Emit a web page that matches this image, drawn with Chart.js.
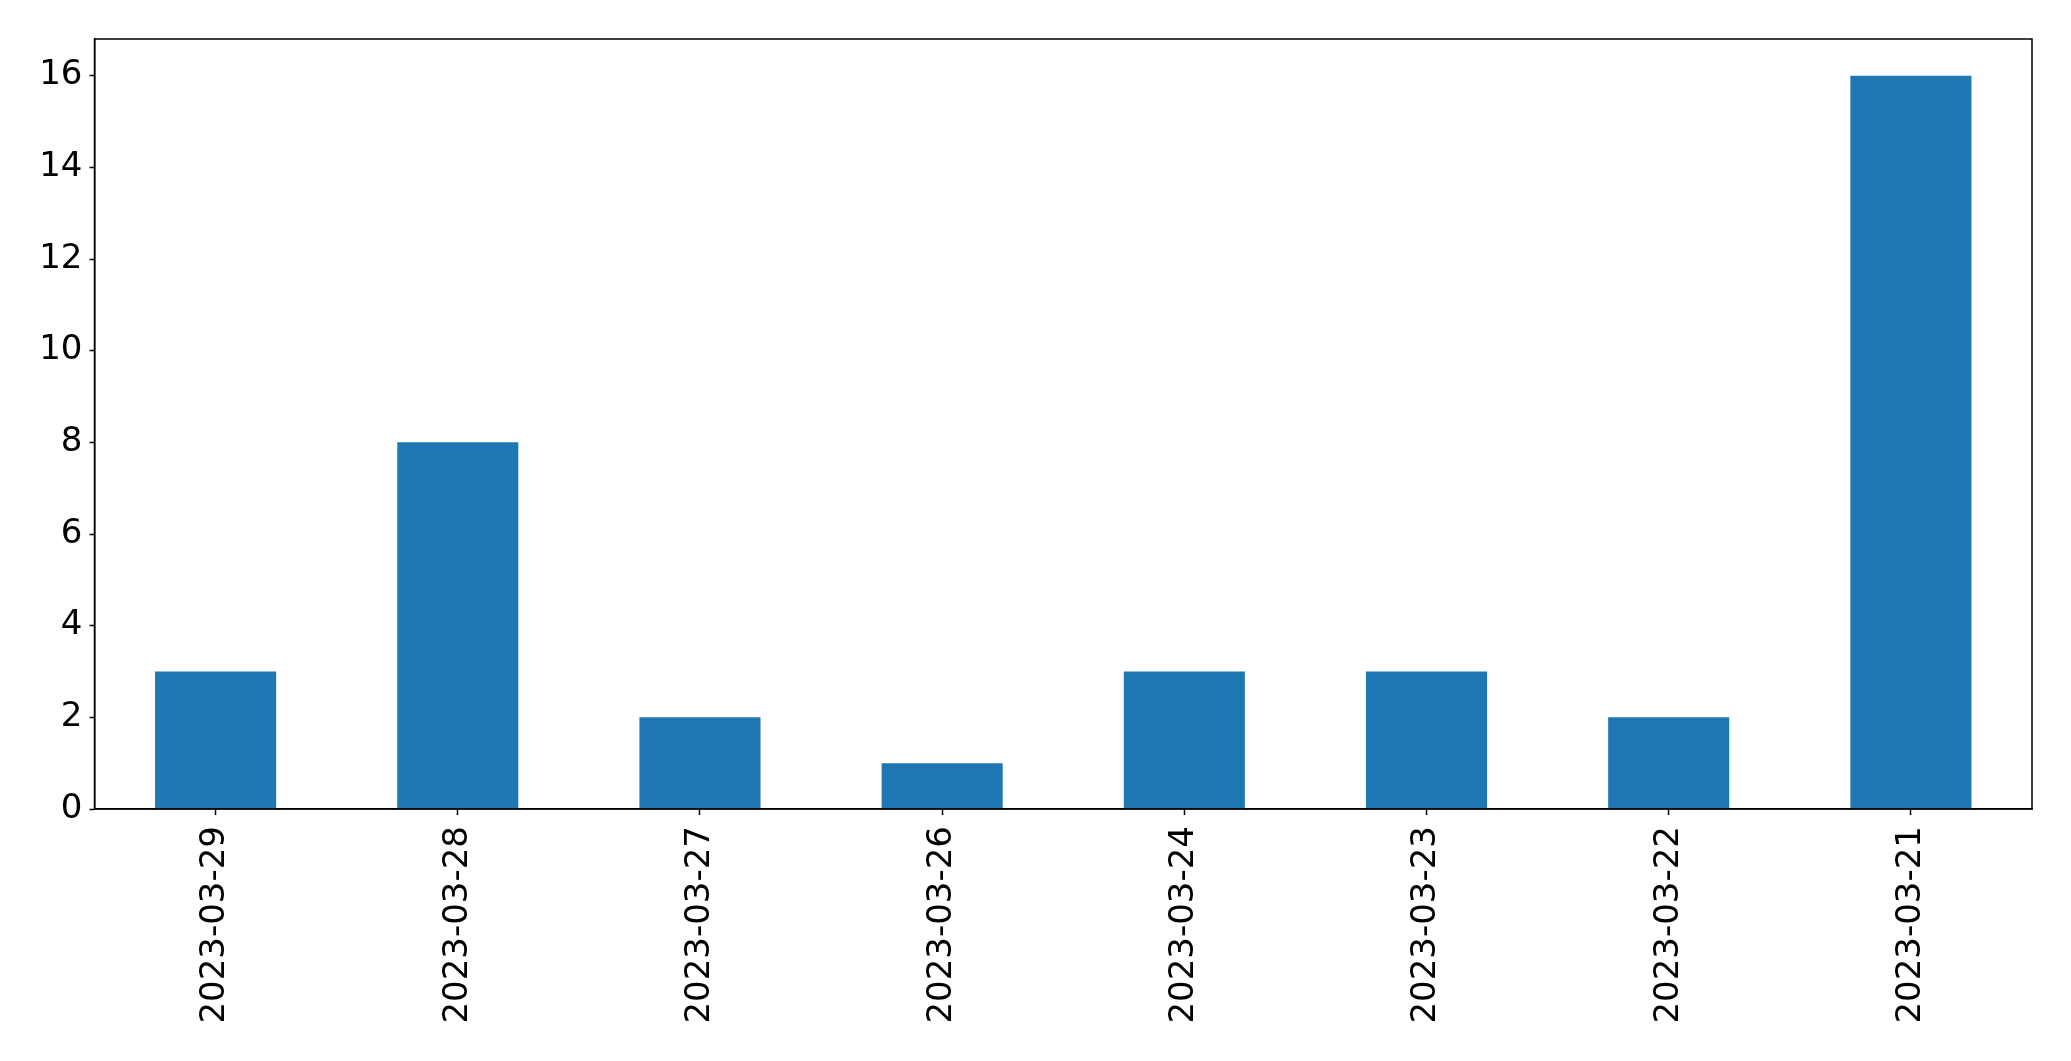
<!DOCTYPE html>
<html>
<head>
<meta charset="utf-8">
<script src="https://cdn.jsdelivr.net/npm/chart.js@4/dist/chart.umd.min.js"></script>
<style>
  html, body { margin: 0; padding: 0; background: #fff; }
  #wrap { width: 2071px; height: 1061px; }
</style>
</head>
<body>
<div id="wrap"><canvas id="chart"></canvas></div>
<script>
'use strict';

// values
const dates = ['2023-03-29', '2023-03-28', '2023-03-27', '2023-03-26', '2023-03-24', '2023-03-23', '2023-03-22', '2023-03-21'];
const counts = [3, 8, 2, 1, 3, 3, 2, 16];
const yTicks = [0, 2, 4, 6, 8, 10, 12, 14, 16];

const FONT = { family: '"DejaVu Sans", sans-serif', size: 34 };

// draw the full axes box (matplotlib style)
const frame = {
  id: 'frame',
  afterDraw(chart) {
    const { ctx, chartArea: a } = chart;
    ctx.save();
    ctx.strokeStyle = '#000';
    ctx.lineWidth = 1.5;
    ctx.strokeRect(a.left, a.top, a.right - a.left, a.bottom - a.top);
    ctx.restore();
  }
};

new Chart(document.getElementById('chart'), {
  type: 'bar',
  data: {
    labels: dates,
    datasets: [{ data: counts, backgroundColor: '#1f77b4', barPercentage: 0.5, categoryPercentage: 1.0 }]
  },
  options: {
    responsive: true,
    maintainAspectRatio: false,
    animation: false,
    layout: { padding: { top: 39, right: 39, left: 0, bottom: 0 } },
    plugins: { legend: { display: false }, tooltip: { enabled: false } },
    scales: {
      x: {
        offset: true,
        grid: { offset: false, drawOnChartArea: false, color: '#000', tickLength: 6, tickWidth: 1.5 },
        border: { color: '#000', width: 1.5 },
        ticks: { color: '#000', font: FONT, minRotation: 90, maxRotation: 90, padding: 11, autoSkip: false },
        afterFit(s) { s.height = 252; }
      },
      y: {
        min: 0,
        max: 16.8,
        afterBuildTicks(s) { s.ticks = yTicks.map(v => ({ value: v })); },
        grid: { drawOnChartArea: false, color: '#000', tickLength: 5, tickWidth: 1.5 },
        border: { color: '#000', width: 1.5 },
        ticks: { color: '#000', font: FONT, padding: 7 },
        afterFit(s) { s.width = 94.5; }
      }
    }
  },
  plugins: [frame]
});
</script>
</body>
</html>
